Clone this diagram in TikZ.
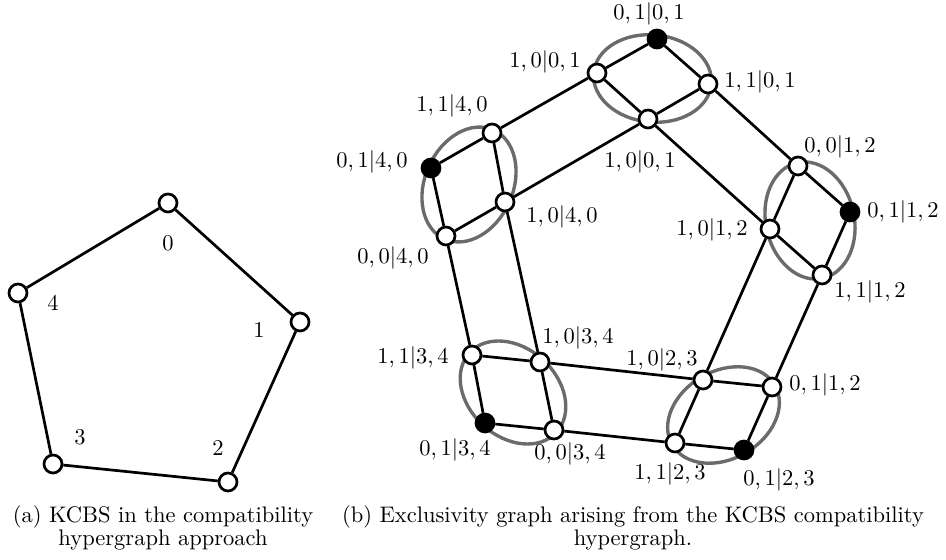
\documentclass[tikz,border=0pt]{standalone}
\usetikzlibrary{calc,backgrounds}
\begin{document}
\begin{tikzpicture}[x=0.4444pt,y=-0.4444pt,line width=1.2pt]
            %
            % `vertex' is used for the open vertices, `fixed' for the filled ones.
            % `hyper' is used for the grey hyperedges round each square.
            \tikzstyle{vertex} = [draw,fill=white,circle,minimum size=8pt,inner sep=0pt]
            \tikzstyle{fixed} = [vertex,fill=black]
            \tikzstyle{hyper} = [draw=black!58,line width=1.5pt]
            \tikzstyle{caption} = [align=center,font=\fontsize{10}{10.4}\selectfont]
            \useasboundingbox (0,0) rectangle (946,560);
            %
            % (a) Compatibility pentagon
            \node[vertex] (m0) at (168,203) {};
            \node[vertex] (m1) at (300,322) {};
            \node[vertex] (m2) at (228,482) {};
            \node[vertex] (m3) at (53,464) {};
            \node[vertex] (m4) at (18,293) {};
            \draw (m0) -- (m1) -- (m2) -- (m3) -- (m4) -- (m0);
            \node (d0) at (168,243) {0};
            \node (d1) at (259,330) {1};
            \node (d2) at (218,448) {2};
            \node (d3) at (80,437) {3};
            \node (d4) at (53,303) {4};
            \node[caption] (capa) at (163,528) {(a) KCBS in the compatibility\\hypergraph approach};
            %
            % (b) Context 0,1
            \node[fixed] (o01m01) at (657,39) {};
            \node[vertex] (o10m01) at (597,73) {};
            \node[vertex] (o11m01) at (708,84) {};
            \node[vertex] (o10m01b) at (648,119) {};
            %
            % Context 4,0
            \node[vertex] (o11m40) at (492,133) {};
            \node[fixed] (o01m40) at (431,168) {};
            \node[vertex] (o10m40) at (505,202) {};
            \node[vertex] (o00m40) at (446,236) {};
            %
            % Context 3,4
            \node[vertex] (o11m34) at (472,355) {};
            \node[vertex] (o10m34) at (540,362) {};
            \node[fixed] (o01m34) at (485,423) {};
            \node[vertex] (o00m34) at (554,430) {};
            %
            % Context 2,3
            \node[vertex] (o10m23) at (703,380) {};
            \node[vertex] (o01m12b) at (772,387) {};
            \node[vertex] (o11m23) at (675,443) {};
            \node[fixed] (o01m23) at (744,450) {};
            %
            % Context 1,2
            \node[vertex] (o00m12) at (798,166) {};
            \node[fixed] (o01m12) at (850,212) {};
            \node[vertex] (o10m12) at (770,229) {};
            \node[vertex] (o11m12) at (822,275) {};
            %
            % Exclusivity edges
            \foreach \a/\b in {o01m01/o10m01, o01m01/o11m01, o10m01/o10m01b, o11m01/o10m01b,
                o01m40/o11m40, o01m40/o00m40, o11m40/o10m40, o00m40/o10m40,
                o11m34/o10m34, o11m34/o01m34, o10m34/o00m34, o01m34/o00m34,
                o10m23/o01m12b, o10m23/o11m23, o01m12b/o01m23, o11m23/o01m23,
                o00m12/o01m12, o00m12/o10m12, o01m12/o11m12, o10m12/o11m12,
                o10m01/o11m40, o10m01b/o10m40, o11m01/o00m12, o10m01b/o10m12,
                o10m12/o10m23, o11m12/o01m12b, o00m40/o11m34, o10m40/o10m34,
                o10m34/o10m23, o00m34/o11m23}
                \draw (\a) -- (\b);
            %
            % Hyperedges (long diagonal first, then short diagonal)
            \begin{scope}[on background layer]
            \foreach \l/\r/\t/\b in {o10m01/o11m01/o01m01/o10m01b, o11m40/o00m40/o01m40/o10m40,
                o11m34/o00m34/o10m34/o01m34, o01m12b/o11m23/o10m23/o01m23,
                o00m12/o11m12/o01m12/o10m12}
                \draw[hyper] let \p1 = ($(\r)-(\l)$), \p2 = ($(\b)-(\t)$),
                    \n1 = {atan2(\y1,\x1)}, \n2 = {veclen(\x1,\y1)/2+1.5pt},
                    \n3 = {veclen(\x2,\y2)/2+1.5pt} in
                    ($(\l)!.5!(\r)$) ellipse [x radius=\n2, y radius=\n3, rotate=\n1];
            \end{scope}
            %
            % Outcome labels
            \node (t01m01) at (649,14) {$0,1|0,1$};
            \node (t10m01) at (545,62) {$1,0|0,1$};
            \node (t11m01) at (760,82) {$1,1|0,1$};
            \node (t10m01b) at (640,162) {$1,0|0,1$};
            \node (t11m40) at (452,106) {$1,1|4,0$};
            \node (t01m40) at (372,162) {$0,1|4,0$};
            \node (t10m40) at (562,217) {$1,0|4,0$};
            \node (t00m40) at (393,258) {$0,0|4,0$};
            \node (t11m34) at (413,358) {$1,1|3,4$};
            \node (t10m34) at (578,338) {$1,0|3,4$};
            \node (t01m34) at (455,450) {$0,1|3,4$};
            \node (t00m34) at (570,454) {$0,0|3,4$};
            \node (t10m23) at (662,360) {$1,0|2,3$};
            \node (t01m12b) at (825,385) {$0,1|1,2$};
            \node (t11m23) at (670,474) {$1,1|2,3$};
            \node (t01m23) at (779,480) {$0,1|2,3$};
            \node (t00m12) at (840,147) {$0,0|1,2$};
            \node (t01m12) at (903,212) {$0,1|1,2$};
            \node (t10m12) at (712,230) {$1,0|1,2$};
            \node (t11m12) at (870,292) {$1,1|1,2$};
            \node[caption] (capb) at (633,528) {(b) Exclusivity graph arising from the KCBS compatibility\\hypergraph.};
        \end{tikzpicture}
\end{document}
